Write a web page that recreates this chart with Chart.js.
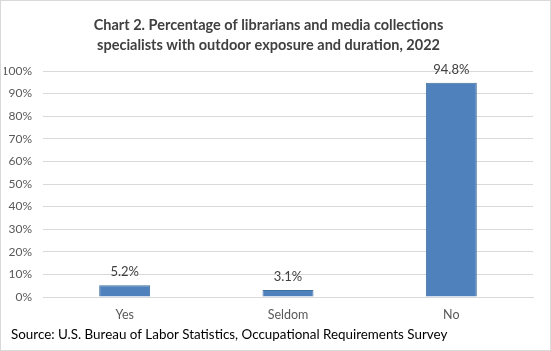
<!DOCTYPE html>
<html>
<head>
<meta charset="utf-8">
<script src="https://cdn.jsdelivr.net/npm/chart.js@4"></script>
<style>
  html, body { margin: 0; padding: 0; background: #fff; }
  #wrap { width: 549px; height: 349px; border: 1px solid #d9d9d9; position: relative; }
</style>
</head>
<body>
<div id="wrap"><canvas id="outdoorChart"></canvas></div>
<script>
// chart data
const categories = ["Yes", "Seldom", "No"];
const percentValues = [5.2, 3.1, 94.8];
const tickStep = 10;
const tickMax = 100;
const sourceNote = "Source: U.S. Bureau of Labor Statistics, Occupational Requirements Survey";

const fontFamily = "Lato, 'Open Sans', sans-serif";

// draws the value above each bar and the source line
const barLabels = {
    id: "barLabels",
    afterDatasetsDraw(chart) {
        const ctx = chart.ctx;
        const meta = chart.getDatasetMeta(0);
        ctx.save();
        ctx.font = "13px " + fontFamily;
        ctx.fillStyle = "#404040";
        ctx.textAlign = "center";
        ctx.textBaseline = "middle";
        meta.data.forEach((bar, i) => {
            ctx.fillText(percentValues[i].toFixed(1) + "%", bar.x, bar.y - 13);
        });

        // source note at the bottom
        ctx.font = "13.4px " + fontFamily;
        ctx.fillStyle = "#000";
        ctx.textAlign = "left";
        ctx.fillText(sourceNote, 10, 334);
        ctx.restore();
    }
};

document.addEventListener("DOMContentLoaded", function () {
    const ctx = document.getElementById("outdoorChart").getContext("2d");

    new Chart(ctx, {
        type: "bar",
        data: {
            labels: categories,
            datasets: [{
                data: percentValues,
                backgroundColor: "#4f81bd",
                borderColor: "#41719c",
                borderWidth: 1,
                categoryPercentage: 0.8,
                barPercentage: 0.39
            }]
        },
        options: {
            responsive: true,
            maintainAspectRatio: false,
            animation: false,
            layout: { padding: { left: 3, right: 17, top: 4, bottom: 26 } },
            plugins: {
                legend: { display: false },
                tooltip: { enabled: false },
                title: {
                    display: true,
                    text: ["Chart 2. Percentage of librarians and media collections",
                           "specialists with outdoor exposure and duration, 2022"],
                    font: { family: fontFamily, size: 14.5, weight: "bold", lineHeight: 1.38 },
                    color: "#404040",
                    padding: { top: 10, bottom: 16 }
                }
            },
            scales: {
                x: {
                    grid: { display: false },
                    border: { color: "#d9d9d9" },
                    ticks: { color: "#595959", font: { family: fontFamily, size: 12.5 }, padding: 2 }
                },
                y: {
                    min: 0,
                    max: tickMax,
                    grid: { color: "#d9d9d9", tickLength: 0 },
                    border: { display: false },
                    afterFit: scale => { scale.width = 39; },
                    ticks: {
                        stepSize: tickStep,
                        color: "#595959",
                        font: { family: fontFamily, size: 12 },
                        padding: 11,
                        callback: v => v + "%"
                    }
                }
            }
        },
        plugins: [barLabels]
    });
});
</script>
</body>
</html>
